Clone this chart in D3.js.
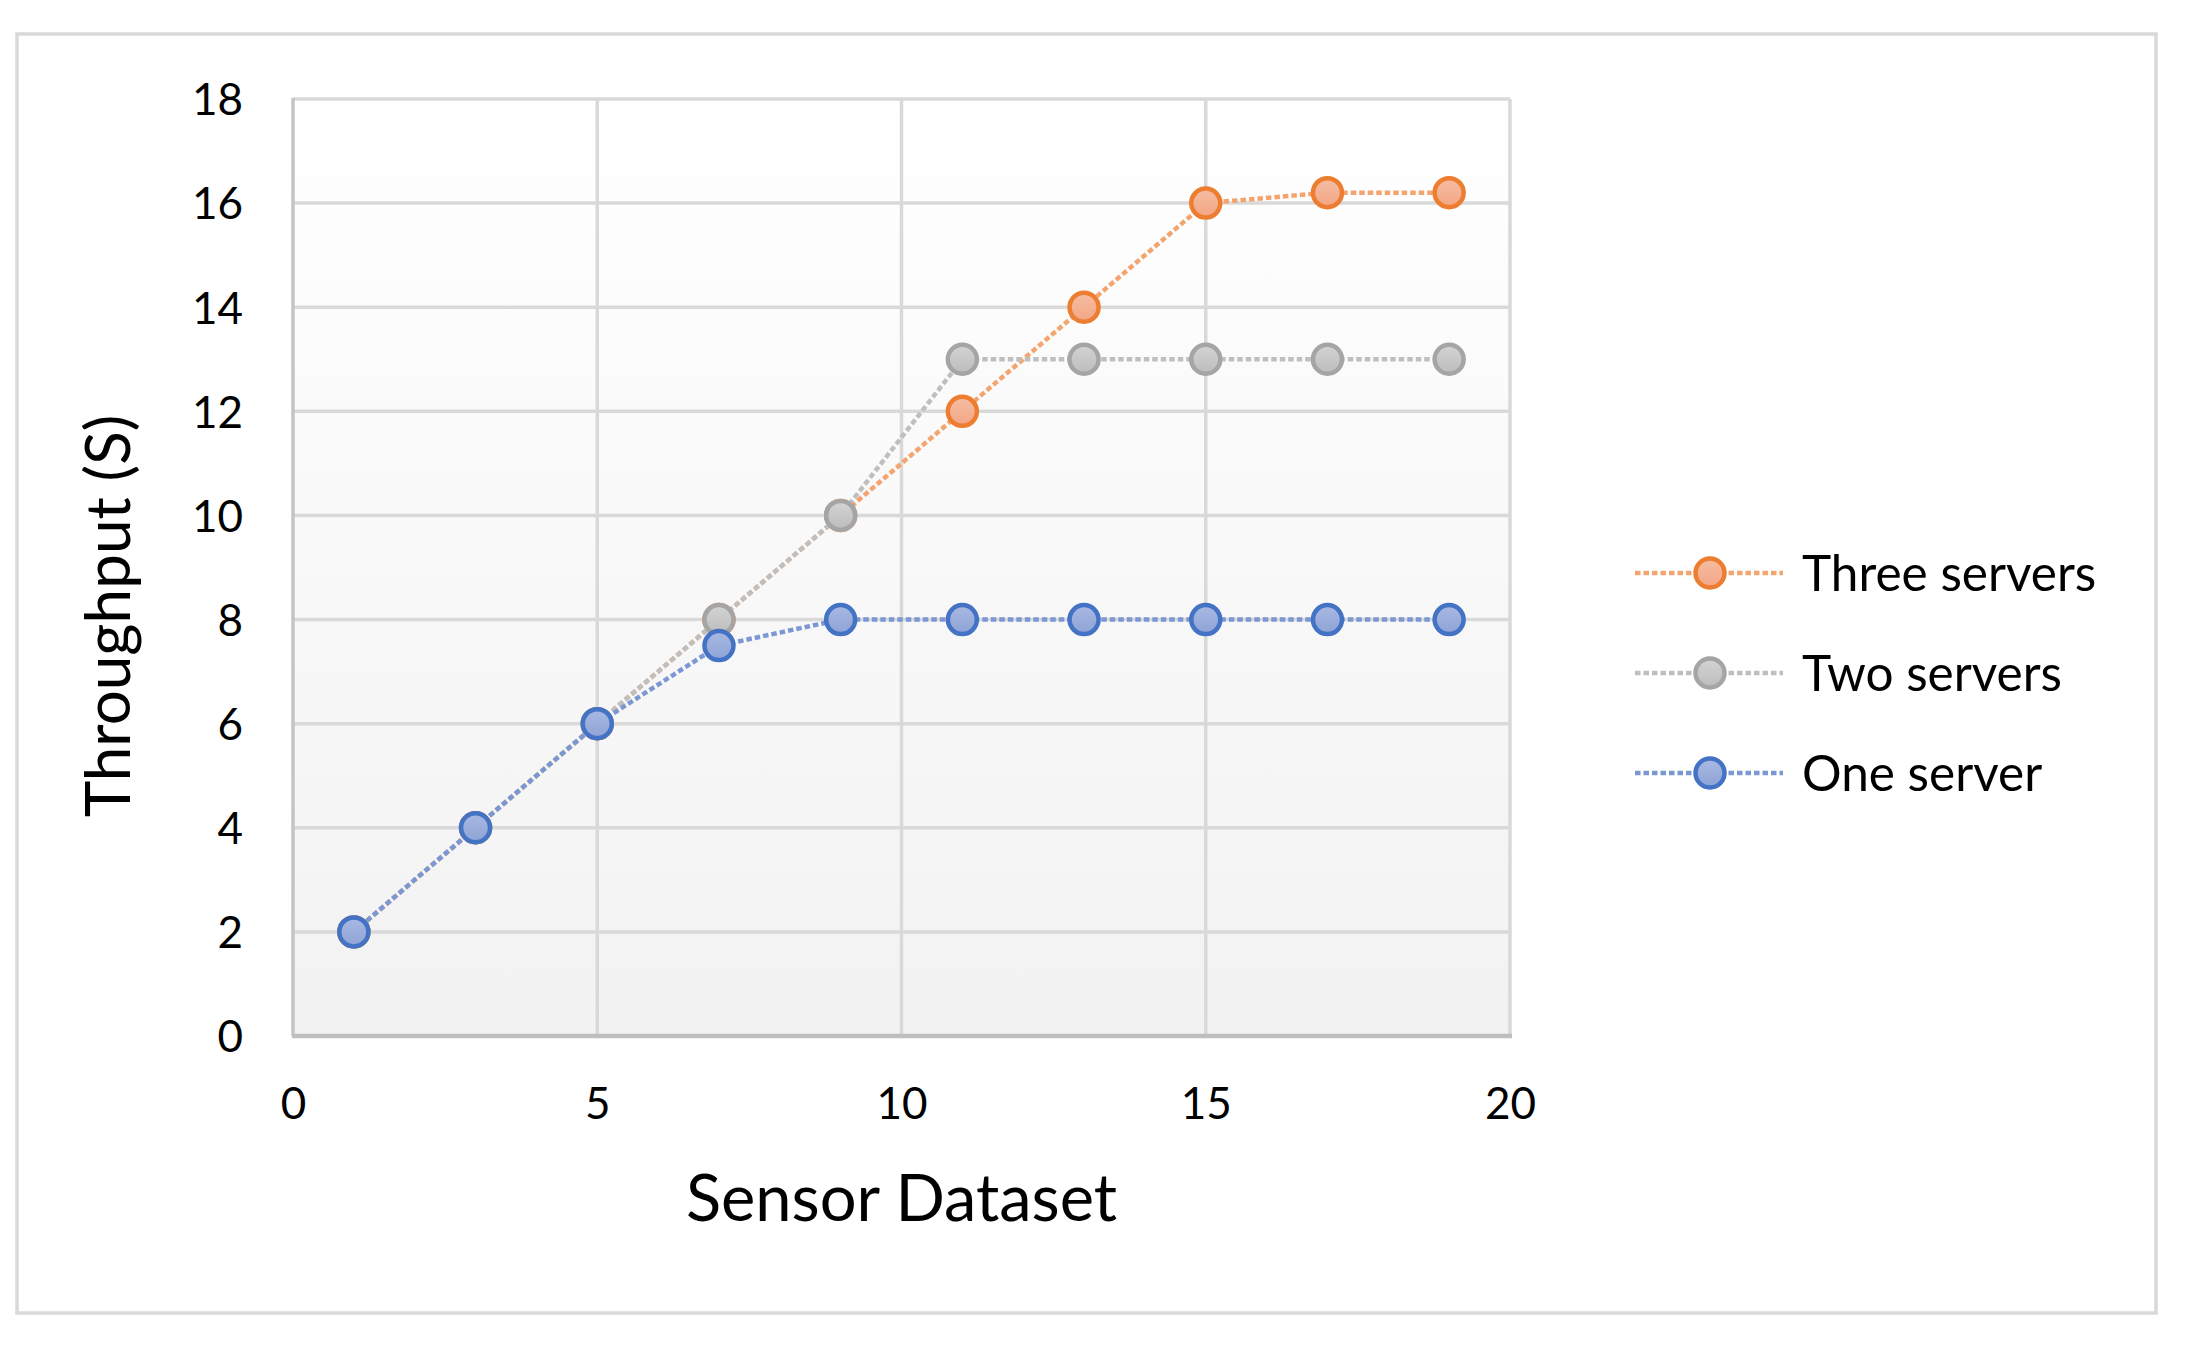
<!DOCTYPE html>
<html>
<head>
<meta charset="utf-8">
<script src="https://cdn.jsdelivr.net/npm/d3@7"></script>
<style>
  html, body { margin: 0; padding: 0; background: #fff; }
  svg { display: block; }
  text { font-family: Lato, "Liberation Sans", sans-serif; fill: #000; }
</style>
</head>
<body>
<svg id="chart" width="2190" height="1345"></svg>
<script>
const xValues = [1, 3, 5, 7, 9, 11, 13, 15, 17, 19];
const threeServers = [2, 4, 6, 8, 10, 12, 14, 16, 16.2, 16.2];
const twoServers = [2, 4, 6, 8, 10, 13, 13, 13, 13, 13];
const oneServer = [2, 4, 6, 7.5, 8, 8, 8, 8, 8, 8];
const seriesNames = ["Three servers", "Two servers", "One server"];
const xTicks = [0, 5, 10, 15, 20];
const yTicks = [0, 2, 4, 6, 8, 10, 12, 14, 16, 18];

(function () {
const styles = [
  { stroke: "#ED7D31", line: "#F4A46E", top: "#F6BDA3", bottom: "#F2A684" },
  { stroke: "#A5A5A5", line: "#BFBFBF", top: "#D4D4D4", bottom: "#BCBCBC" },
  { stroke: "#4472C4", line: "#7B97D4", top: "#A8B9E2", bottom: "#8EA3D6" }
];
const seriesValues = [threeServers, twoServers, oneServer];

const svg = d3.select("#chart");
const defs = svg.append("defs");

const bg = defs.append("linearGradient").attr("id", "plotbg")
  .attr("x1", 0).attr("y1", 0).attr("x2", 0).attr("y2", 1);
bg.append("stop").attr("offset", "0%").attr("stop-color", "#ffffff");
bg.append("stop").attr("offset", "100%").attr("stop-color", "#f2f2f2");

styles.forEach((s, i) => {
  const g = defs.append("linearGradient").attr("id", "mk" + i)
    .attr("x1", 0).attr("y1", 0).attr("x2", 0).attr("y2", 1);
  g.append("stop").attr("offset", "0%").attr("stop-color", s.top);
  g.append("stop").attr("offset", "100%").attr("stop-color", s.bottom);
});

svg.append("rect")
  .attr("x", 17).attr("y", 34).attr("width", 2139).attr("height", 1279)
  .attr("fill", "#fff").attr("stroke", "#d9d9d9").attr("stroke-width", 3.5);

const pL = 293, pR = 1510, pT = 99, pB = 1036;
const x = d3.scaleLinear().domain([0, 20]).range([pL, pR]);
const y = d3.scaleLinear().domain([0, 18]).range([pB, pT]);

svg.append("rect")
  .attr("x", pL).attr("y", pT).attr("width", pR - pL).attr("height", pB - pT)
  .attr("fill", "url(#plotbg)");

const grid = svg.append("g");
grid.selectAll("line.h").data(yTicks.filter(d => d > 0)).enter().append("line")
  .attr("class", "h")
  .attr("x1", pL).attr("x2", pR)
  .attr("y1", d => y(d)).attr("y2", d => y(d))
  .attr("stroke", "#d9d9d9").attr("stroke-width", 3.5);
grid.selectAll("line.v").data(xTicks.filter(d => d > 0)).enter().append("line")
  .attr("class", "v")
  .attr("y1", pT).attr("y2", pB)
  .attr("x1", d => x(d)).attr("x2", d => x(d))
  .attr("stroke", "#d9d9d9").attr("stroke-width", 3.5);

svg.append("line").attr("x1", pL).attr("x2", pL).attr("y1", pT - 1).attr("y2", pB)
  .attr("stroke", "#c4c4c4").attr("stroke-width", 3.5);
svg.append("line").attr("x1", pL - 1).attr("x2", pR + 2).attr("y1", pB).attr("y2", pB)
  .attr("stroke", "#bfbfbf").attr("stroke-width", 4.5);

const yAxis = d3.axisLeft(y).tickValues(yTicks).tickSize(0).tickPadding(50);
const gy = svg.append("g").attr("transform", `translate(${pL},0)`).call(yAxis);
gy.select(".domain").remove();
gy.selectAll("text").style("font-size", "44px").attr("fill", "#000")
  .attr("dy", "0.36em").style("font-family", "Lato, sans-serif");

const xAxis = d3.axisBottom(x).tickValues(xTicks).tickSize(0).tickPadding(52);
const gx = svg.append("g").attr("transform", `translate(0,${pB})`).call(xAxis);
gx.select(".domain").remove();
gx.selectAll("text").style("font-size", "44px").attr("fill", "#000")
  .style("font-family", "Lato, sans-serif");

svg.append("text").attr("x", (pL + pR) / 2).attr("y", 1221)
  .attr("text-anchor", "middle").style("font-size", "65px").text("Sensor Dataset");
svg.append("text")
  .attr("transform", `translate(130,616) rotate(-90)`)
  .attr("text-anchor", "middle").style("font-size", "62px").text("Throughput (S)");

const line = d3.line().x(d => x(d[0])).y(d => y(d[1]));
const dash = "5.5,3";
const rM = 14.5;

seriesValues.forEach((vals, i) => {
  const pts = xValues.map((xv, j) => [xv, vals[j]]);
  const g = svg.append("g");
  g.append("path").datum(pts).attr("d", line)
    .attr("fill", "none").attr("stroke", styles[i].line)
    .attr("stroke-width", 4.5).attr("stroke-dasharray", dash);
  g.selectAll("circle").data(pts).enter().append("circle")
    .attr("cx", d => x(d[0])).attr("cy", d => y(d[1])).attr("r", rM)
    .attr("fill", `url(#mk${i})`).attr("stroke", styles[i].stroke).attr("stroke-width", 4.5);
});

const legendRows = [573, 673, 773];
const lg = svg.append("g");
seriesNames.forEach((name, i) => {
  const yy = legendRows[i];
  lg.append("line").attr("x1", 1635).attr("x2", 1783).attr("y1", yy).attr("y2", yy)
    .attr("stroke", styles[i].line).attr("stroke-width", 4.5).attr("stroke-dasharray", dash);
  lg.append("circle").attr("cx", 1710).attr("cy", yy).attr("r", rM)
    .attr("fill", `url(#mk${i})`).attr("stroke", styles[i].stroke).attr("stroke-width", 4.5);
  lg.append("text").attr("x", 1802).attr("y", yy).attr("dy", "0.36em")
    .style("font-size", "49.5px").text(name);
});
})();
</script>
</body>
</html>
